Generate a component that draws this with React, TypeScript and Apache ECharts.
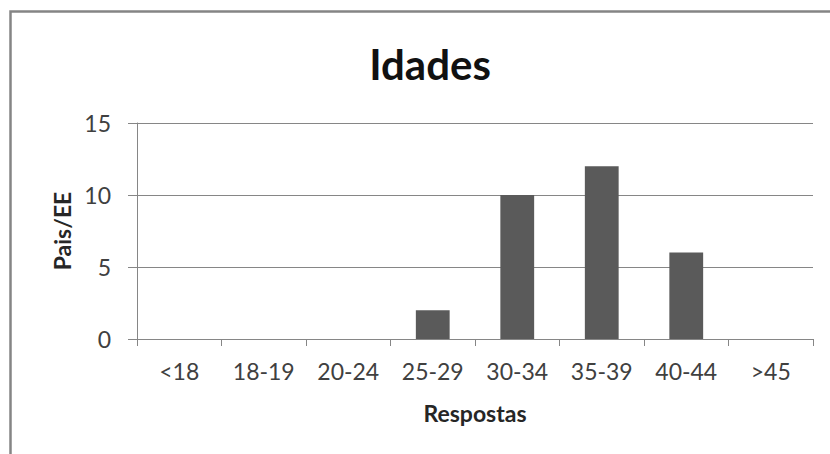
import React, { useEffect, useRef } from "react";
import * as echarts from "echarts";

const titleText = "Idades";
const categories = ["<18", "18-19", "20-24", "25-29", "30-34", "35-39", "40-44", ">45"];
const values = [0, 0, 0, 2, 10, 12, 6, 0];
const xAxisName = "Respostas";
const yAxisName = "Pais/EE";
const yMin = 0;
const yMax = 15;
const yInterval = 5;

const FONT = "Lato, 'Open Sans', sans-serif";

export default function App() {
  const ref = useRef<HTMLDivElement>(null);
  useEffect(() => {
    if (!ref.current) return;
    const chart = echarts.init(ref.current, undefined, { renderer: "svg" });
    chart.setOption({
      animation: false,
      backgroundColor: "#ffffff",
      title: {
        text: titleText,
        left: 425,
        textAlign: "center",
        top: 38,
        textStyle: { fontFamily: FONT, fontSize: 42, fontWeight: "bold", color: "#111111" },
      },
      graphic: [
        {
          type: "rect",
          shape: { x: 10.5, y: 11.5, width: 900, height: 600 },
          style: { fill: "none", stroke: "#858585", lineWidth: 2.5 },
          silent: true,
        },
      ],
      grid: { left: 137, right: 17, top: 123, bottom: 115, containLabel: false },
      xAxis: {
        type: "category",
        data: categories,
        boundaryGap: true,
        name: xAxisName,
        nameLocation: "middle",
        nameGap: 62,
        nameTextStyle: { fontFamily: FONT, fontSize: 23, fontWeight: "bold", color: "#262626" },
        axisLine: { show: true, lineStyle: { color: "#868686", width: 1 } },
        axisTick: { show: true, length: 7, inside: false, lineStyle: { color: "#868686" } },
        axisLabel: { fontFamily: FONT, fontSize: 23, color: "#404040", margin: 20, interval: 0 },
        splitLine: { show: false },
      },
      yAxis: {
        type: "value",
        min: yMin,
        max: yMax,
        interval: yInterval,
        name: yAxisName,
        nameLocation: "middle",
        nameGap: 55,
        nameRotate: 90,
        nameTextStyle: { fontFamily: FONT, fontSize: 23, fontWeight: "bold", color: "#262626" },
        axisLine: { show: true, lineStyle: { color: "#868686", width: 1 } },
        axisTick: { show: true, length: 9, inside: false, lineStyle: { color: "#868686" } },
        axisLabel: { fontFamily: FONT, fontSize: 23, color: "#404040", margin: 26 },
        splitLine: { show: true, lineStyle: { color: "#868686", width: 1 } },
      },
      series: [
        {
          type: "bar",
          data: values,
          barWidth: "40%",
          itemStyle: { color: "#5a5a5a" },
        },
      ],
    });
    return () => chart.dispose();
  }, []);
  return (
    <div
      ref={ref}
      style={{ position: "fixed", left: 0, top: 0, width: 830, height: 454 }}
    />
  );
}
